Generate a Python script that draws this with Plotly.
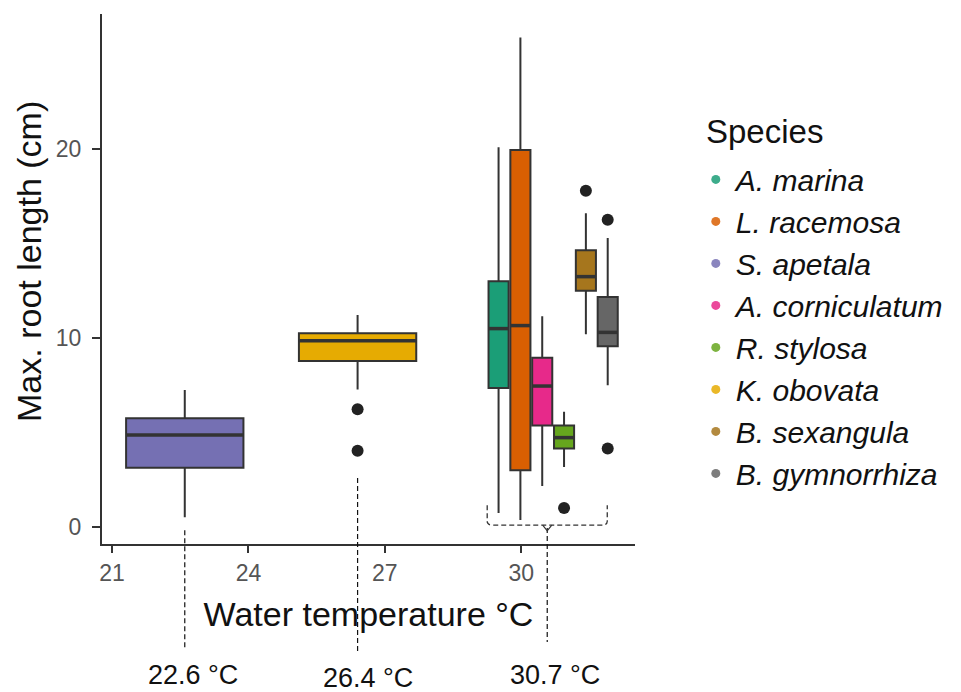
import plotly.graph_objects as go

# ---------------- data ----------------
species = ["A. marina", "L. racemosa", "S. apetala", "A. corniculatum",
           "R. stylosa", "K. obovata", "B. sexangula", "B. gymnorrhiza"]
temperature = [30.7, 30.7, 22.6, 30.7, 30.7, 26.4, 30.7, 30.7]
lower_whisker = [0.74, 0.37, 0.51, 2.17, 3.17, 7.28, 10.2, 7.5]
q1 = [7.35, 3.0, 3.14, 5.37, 4.15, 8.78, 12.5, 9.57]
median = [10.5, 10.66, 4.87, 7.46, 4.73, 9.86, 13.25, 10.3]
q3 = [13.0, 19.95, 5.75, 8.96, 5.37, 10.25, 14.65, 12.17]
upper_whisker = [20.1, 25.9, 7.25, 11.16, 6.1, 11.22, 16.6, 15.3]
outliers = [[], [], [], [], [1.0], [6.23, 4.04], [17.8], [16.26, 4.15]]
colors = ["#1B9E77", "#D95F02", "#7570B3", "#E7298A",
          "#66A61E", "#E6AB02", "#A6761D", "#666666"]
x_ticks = [21, 24, 27, 30]
y_ticks = [0, 10, 20]
site_labels = ["22.6 °C", "26.4 °C", "30.7 °C"]
site_line_x = [22.6, 26.4, 30.57]

# ---------------- dodge positions ----------------
group_width = 2.88
single_width = 2.58
positions, widths = [], []
for i, t in enumerate(temperature):
    members = [j for j, tt in enumerate(temperature) if tt == t]
    n = len(members)
    if n == 1:
        positions.append(t)
        widths.append(single_width)
    else:
        slot = group_width / n
        k = members.index(i)
        positions.append(t - group_width / 2 + slot * (k + 0.5))
        widths.append(slot * 0.92)

OUT = "#333333"
fig = go.Figure()

for i, sp in enumerate(species):
    fig.add_trace(go.Box(
        x=[positions[i]], q1=[q1[i]], median=[median[i]], q3=[q3[i]],
        lowerfence=[lower_whisker[i]], upperfence=[upper_whisker[i]],
        width=widths[i], fillcolor=colors[i], line=dict(color=OUT, width=2),
        whiskerwidth=0, boxpoints=False, showlegend=False, name=sp,
        hoverinfo="skip"))
    # thicker median
    fig.add_trace(go.Scatter(
        x=[positions[i] - widths[i] / 2, positions[i] + widths[i] / 2],
        y=[median[i], median[i]], mode="lines",
        line=dict(color=OUT, width=3.5), showlegend=False, hoverinfo="skip"))
    if outliers[i]:
        fig.add_trace(go.Scatter(
            x=[positions[i]] * len(outliers[i]), y=outliers[i], mode="markers",
            marker=dict(color="#222222", size=12), showlegend=False,
            hoverinfo="skip"))

# legend entries (dots)
for i, sp in enumerate(species):
    fig.add_trace(go.Scatter(
        x=[None], y=[None], mode="markers", name="<i>" + sp + "</i>",
        marker=dict(color=colors[i], size=9, opacity=0.85)))

shapes = []
dash = "5px,3px"
# site reference lines
tops = [0.026, 0.1245, 0.03]
bottoms = [-0.196, -0.204, -0.185]
for xv, t0, b0 in zip(site_line_x, tops, bottoms):
    shapes.append(dict(type="line", xref="x", yref="paper", x0=xv, x1=xv,
                       y0=t0, y1=b0, line=dict(color="#111111", width=1.2, dash=dash)))
# brace around the 30.7 °C group
gl, gr = 29.25, 31.89
shapes.append(dict(type="path", xref="x", yref="y",
                   path=f"M {gl},1.15 L {gl},0.3 Q {gl},0.1 {gl+0.12},0.1 "
                        f"L {gr-0.12},0.1 Q {gr},0.1 {gr},0.3 L {gr},1.15",
                   line=dict(color=OUT, width=1.3, dash=dash)))
shapes.append(dict(type="path", xref="x", yref="y",
                   path=f"M {site_line_x[2]-0.1},0.1 L {site_line_x[2]},-0.2 "
                        f"L {site_line_x[2]+0.1},0.1",
                   line=dict(color=OUT, width=1.2)))

annotations = []
label_x = [22.78, 26.62, 30.75]
label_y = [-0.247, -0.253, -0.247]
for txt, lx, ly in zip(site_labels, label_x, label_y):
    annotations.append(dict(text=txt, x=lx, y=ly, xref="x", yref="paper",
                            showarrow=False, font=dict(size=27, color="#111111"),
                            xanchor="center", yanchor="middle"))

# y-axis title and legend title as positioned text
annotations.append(dict(text="Max. root length (cm)", textangle=-90,
                        xref="paper", yref="paper", x=-0.137, y=0.534,
                        xanchor="center", yanchor="middle", showarrow=False,
                        font=dict(size=34, color="#111111")))
annotations.append(dict(text="Species", xref="paper", yref="paper",
                        x=1.129, y=0.779, xanchor="left", yanchor="middle",
                        showarrow=False, font=dict(size=33, color="#111111")))

FONT = "Liberation Sans, Arial, sans-serif"
fig.update_layout(
    width=961, height=692,
    margin=dict(l=102, r=325, t=14, b=148),
    plot_bgcolor="white", paper_bgcolor="white",
    font=dict(family=FONT, color="#111111"),
    boxmode="overlay",
    shapes=shapes, annotations=annotations,
    xaxis=dict(range=[20.78, 32.5], tickvals=x_ticks, showgrid=False,
               zeroline=False, showline=True, linecolor=OUT, linewidth=2,
               ticks="outside", ticklen=7, tickwidth=1.5, tickcolor=OUT,
               tickfont=dict(size=23, color="#555555"), ticklabelstandoff=0,
               title=dict(text="Water temperature °C", font=dict(size=34),
                          standoff=18)),
    yaxis=dict(range=[-0.9, 27.15], tickvals=y_ticks, showgrid=False,
               zeroline=False, showline=True, linecolor=OUT, linewidth=2,
               ticks="outside", ticklen=8, tickwidth=1.5, tickcolor=OUT,
               tickfont=dict(size=23, color="#555555"), ticklabelstandoff=6),
    legend=dict(font=dict(size=30), x=1.112, xanchor="left", y=0.737,
                yanchor="top", itemwidth=30, bgcolor="rgba(0,0,0,0)",
                tracegroupgap=0),
)

fig.write_html("out.html")
